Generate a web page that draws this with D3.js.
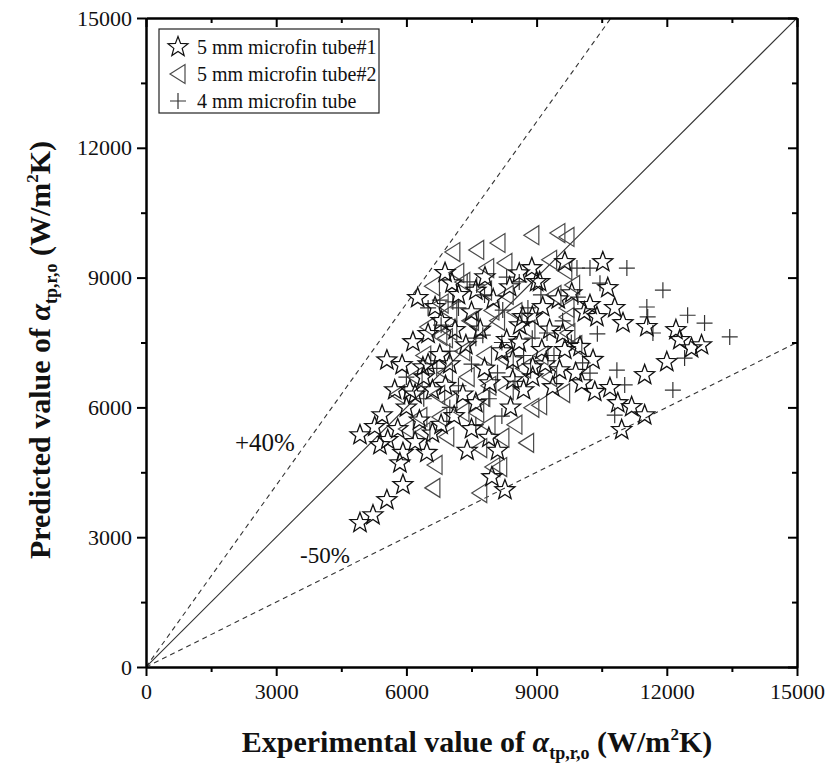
<!DOCTYPE html>
<html><head><meta charset="utf-8">
<script src="https://cdn.jsdelivr.net/npm/d3@7"></script>
<style>body{margin:0;background:#fff}</style>
</head><body>
<svg id="c" width="830" height="767"></svg>
<script>
// ---- data (W/m^2K) : [experimental, predicted]
const tube1Star = [[10525,9360],[9650,9360],[8890,9220],[9070,8900],[6890,9110],[7050,8870],[7810,9010],[8380,8780],[6260,8530],[6660,8320],[10640,8760],[9810,8640],[9140,8320],[10230,8370],[10390,8090],[10800,8300],[10990,7950],[8610,7900],[8680,8090],[11540,7860],[12210,7790],[12300,7560],[12570,7370],[12800,7440],[12000,7050],[11490,6750],[9120,7330],[9650,7330],[9530,6860],[8310,7560],[8450,7090],[8910,6930],[10960,5480],[11490,5820],[11190,6010],[10870,6100],[10340,6360],[10690,6450],[10040,6560],[9370,6470],[8910,6700],[8450,6630],[8270,4090],[6150,7510],[5550,7090],[5900,6980],[6380,6930],[4930,5360],[5270,5550],[5440,5820],[5730,6400],[6080,6400],[5570,5250],[5920,4950],[5850,4710],[5920,4210],[5550,3860],[5230,3510],[4930,3330],[5390,5130],[6200,5200],[6470,4950],[7920,6560],[7970,4390],[6770,7210],[7370,7440],[7120,7790],[7700,7800],[6500,7000],[6900,6500],[7300,6300],[7600,6100],[7100,5800],[6800,5600],[7500,5500],[7900,5300],[8100,5000],[7400,5000],[6600,5400],[6300,5700],[6000,6000],[6200,6300],[5800,5500],[6400,6700],[7000,7000],[7800,6900],[8200,7300],[8600,7500],[7500,8200],[8000,8500],[7200,8600],[6800,8000],[6500,7700],[8900,8100],[9300,7800],[9600,7700],[10000,7400],[10300,7100],[9900,6800],[9200,7000],[8700,6400],[8400,6000],[9500,8500],[10100,8200],[9000,8900],[8600,9100],[7600,8700],[6600,6400]];
const tube2Tri = [[7070,9590],[7620,9640],[8110,9800],[7160,9110],[7850,9220],[8270,9340],[8890,9980],[9490,10030],[9700,9940],[9300,9410],[9650,9170],[9830,8830],[9700,8090],[9720,7720],[9880,7440],[8890,5990],[9070,6050],[8770,5180],[9600,6330],[8150,4620],[6720,6290],[7000,6120],[7760,6240],[6310,5780],[6770,5780],[7280,5890],[7620,5870],[7880,5590],[6380,5430],[6930,5320],[6660,4670],[6610,4140],[7690,5060],[7990,4620],[7690,4020],[6490,7860],[7300,8900],[7800,8700],[8300,8600],[6800,8400],[6600,8800],[7000,8200],[7500,8000],[8100,8000],[8500,8200],[8800,7800],[6900,7600],[7300,7300],[7800,7200],[8300,7100],[8700,6900],[9100,7200],[9300,6700],[6400,7200],[6900,6800],[7400,6700],[7900,6500],[8300,6400],[6200,6700],[6770,7650],[7000,7770],[7460,8000],[7970,8240],[9400,8600],[9700,8300],[5800,6300],[6000,5500],[8500,5600],[8200,5300]];
const tube4Plus = [[9930,9220],[10230,9220],[11080,9220],[11910,8710],[11540,8320],[11560,8090],[10460,8870],[9950,8550],[9240,7720],[10060,7030],[10850,6860],[8310,9010],[8220,8250],[12480,8130],[12870,7950],[13450,7630],[12410,7140],[12140,6400],[10800,5820],[11030,6520],[10230,6790],[11680,7720],[7400,8900],[7800,8600],[8600,8900],[9100,8600],[8800,8300],[7200,8300],[6800,7900],[7600,7600],[8200,7500],[8900,7600],[9600,8000],[7000,7300],[7500,7000],[8100,6800],[8700,7200],[9400,7200],[6700,6900],[7200,6500],[7900,6200],[8500,6600],[6400,6200],[7000,6000],[7600,5600],[8200,5800],[6000,6700],[6500,8300],[9800,7500],[10400,7700],[6770,8480],[7070,8440],[7620,8830],[7760,7670]];
const seriesNames = ["5 mm microfin tube#1","5 mm microfin tube#2","4 mm microfin tube"];
const majorTicks = [0,3000,6000,9000,12000,15000];
const minorTicks = [1500,4500,7500,10500,13500];
const refRatios = [1.0,1.4,0.5];
const refLabels = ["+40%","-50%"];

const svg = d3.select("#c");
svg.append("rect").attr("width",830).attr("height",767).attr("fill","#fff");
const L=146,R=797,T=18,B=667;
const x = d3.scaleLinear().domain([0,15000]).range([L,R]);
const y = d3.scaleLinear().domain([0,15000]).range([B,T]);
const serif = "'Liberation Serif','Times New Roman',serif";

svg.append("defs").append("clipPath").attr("id","clip")
  .append("rect").attr("x",L).attr("y",T).attr("width",R-L).attr("height",B-T);

// reference lines
const gl = svg.append("g").attr("clip-path","url(#clip)");
refRatios.forEach((k,i)=>{
  gl.append("line").attr("x1",x(0)).attr("y1",y(0)).attr("x2",x(15000)).attr("y2",y(15000*k))
    .attr("stroke","#333").attr("stroke-width",1.1)
    .attr("stroke-dasharray", i===0? null : "5,4");
});

// markers
const starType = {draw(ctx,size){const Ro=10.5,Ri=4.4;for(let i=0;i<10;i++){const r=i%2?Ri:Ro;const a=-Math.PI/2+i*Math.PI/5;const px=r*Math.cos(a),py=r*Math.sin(a);i?ctx.lineTo(px,py):ctx.moveTo(px,py);}ctx.closePath();}};
const triType = {draw(ctx,size){ctx.moveTo(-8,0);ctx.lineTo(7,-9.5);ctx.lineTo(7,9.5);ctx.closePath();}};
const plusType = {draw(ctx,size){ctx.moveTo(-8,0);ctx.lineTo(8,0);ctx.moveTo(0,-8);ctx.lineTo(0,8);}};
const gp = svg.append("g");
gp.selectAll(".tri").data(tube2Tri).join("path").attr("class","tri")
  .attr("d",d3.symbol().type(triType)).attr("transform",d=>`translate(${x(d[0])},${y(d[1])})`)
  .attr("fill","none").attr("stroke","#4a4a4a").attr("stroke-width",1.2);
gp.selectAll(".plus").data(tube4Plus).join("path").attr("class","plus")
  .attr("d",d3.symbol().type(plusType)).attr("transform",d=>`translate(${x(d[0])},${y(d[1])})`)
  .attr("fill","none").attr("stroke","#333").attr("stroke-width",1.2);
gp.selectAll(".star").data(tube1Star).join("path").attr("class","star")
  .attr("d",d3.symbol().type(starType)).attr("transform",d=>`translate(${x(d[0])},${y(d[1])})`)
  .attr("fill","none").attr("stroke","#111").attr("stroke-width",1.3);

// axes
function styleAxis(g){g.selectAll("path.domain").attr("stroke","#000").attr("stroke-width",2);
  g.selectAll(".tick line").attr("stroke","#000").attr("stroke-width",2);
  g.selectAll("text").attr("font-family",serif).attr("font-size",22).attr("fill","#111");}
const fmt = d3.format("d");
// bottom
svg.append("g").attr("transform",`translate(0,${B})`).call(d3.axisBottom(x).tickValues(majorTicks).tickFormat(fmt).tickSize(9).tickSizeOuter(0).tickPadding(7)).call(styleAxis);
svg.append("g").attr("transform",`translate(0,${B})`).call(d3.axisBottom(x).tickValues(minorTicks).tickFormat("").tickSize(5).tickSizeOuter(0)).call(styleAxis);
// top (ticks pointing down)
svg.append("g").attr("transform",`translate(0,${T})`).call(d3.axisBottom(x).tickValues(majorTicks).tickFormat("").tickSize(9).tickSizeOuter(0)).call(styleAxis);
svg.append("g").attr("transform",`translate(0,${T})`).call(d3.axisBottom(x).tickValues(minorTicks).tickFormat("").tickSize(5).tickSizeOuter(0)).call(styleAxis);
// left
svg.append("g").attr("transform",`translate(${L},0)`).call(d3.axisLeft(y).tickValues(majorTicks).tickFormat(fmt).tickSize(9).tickSizeOuter(0).tickPadding(5)).call(styleAxis);
svg.append("g").attr("transform",`translate(${L},0)`).call(d3.axisLeft(y).tickValues(minorTicks).tickFormat("").tickSize(5).tickSizeOuter(0)).call(styleAxis);
// right (ticks pointing left, inward)
svg.append("g").attr("transform",`translate(${R},0)`).call(d3.axisLeft(y).tickValues(majorTicks).tickFormat("").tickSize(9).tickSizeOuter(0)).call(styleAxis);
svg.append("g").attr("transform",`translate(${R},0)`).call(d3.axisLeft(y).tickValues(minorTicks).tickFormat("").tickSize(5).tickSizeOuter(0)).call(styleAxis);

// ref labels
svg.append("text").attr("x",x(2050)).attr("y",y(5180)+8).text(refLabels[0])
  .attr("font-family",serif).attr("font-size",25).attr("fill","#111");
svg.append("text").attr("x",x(3550)).attr("y",y(2590)+8).text(refLabels[1])
  .attr("font-family",serif).attr("font-size",23).attr("fill","#111");

// legend
const lg = svg.append("g");
lg.append("rect").attr("x",159).attr("y",29).attr("width",220).attr("height",84)
  .attr("fill","#fff").attr("stroke","#222").attr("stroke-width",1.2);
const legTypes=[starType,triType,plusType], legStroke=["#111","#4a4a4a","#333"];
seriesNames.forEach((s,i)=>{
  const cy = 47+i*27;
  lg.append("path").attr("d",d3.symbol().type(legTypes[i])()).attr("transform",`translate(178,${cy})`)
    .attr("fill","none").attr("stroke",legStroke[i]).attr("stroke-width",1.2);
  lg.append("text").attr("x",197).attr("y",cy+6.5).text(s).attr("font-family",serif).attr("font-size",20).attr("fill","#111");
});

// axis titles
const xt = svg.append("text").attr("x",477).attr("y",752).attr("text-anchor","middle")
  .attr("font-family",serif).attr("font-size",30).attr("font-weight","bold").attr("fill","#111");
xt.append("tspan").text("Experimental value of ");
xt.append("tspan").attr("font-style","italic").text("α");
xt.append("tspan").attr("font-size",18).attr("dy",7).text("tp,r,o");
xt.append("tspan").attr("dy",-7).text(" (W/m");
xt.append("tspan").attr("font-size",17).attr("dy",-12).text("2");
xt.append("tspan").attr("dy",12).text("K)");

const yt = svg.append("text").attr("transform","translate(50,350) rotate(-90)").attr("text-anchor","middle")
  .attr("font-family",serif).attr("font-size",30).attr("font-weight","bold").attr("fill","#111");
yt.append("tspan").text("Predicted value of ");
yt.append("tspan").attr("font-style","italic").text("α");
yt.append("tspan").attr("font-size",18).attr("dy",7).text("tp,r,o");
yt.append("tspan").attr("dy",-7).text(" (W/m");
yt.append("tspan").attr("font-size",17).attr("dy",-12).text("2");
yt.append("tspan").attr("dy",12).text("K)");
</script>
</body></html>
